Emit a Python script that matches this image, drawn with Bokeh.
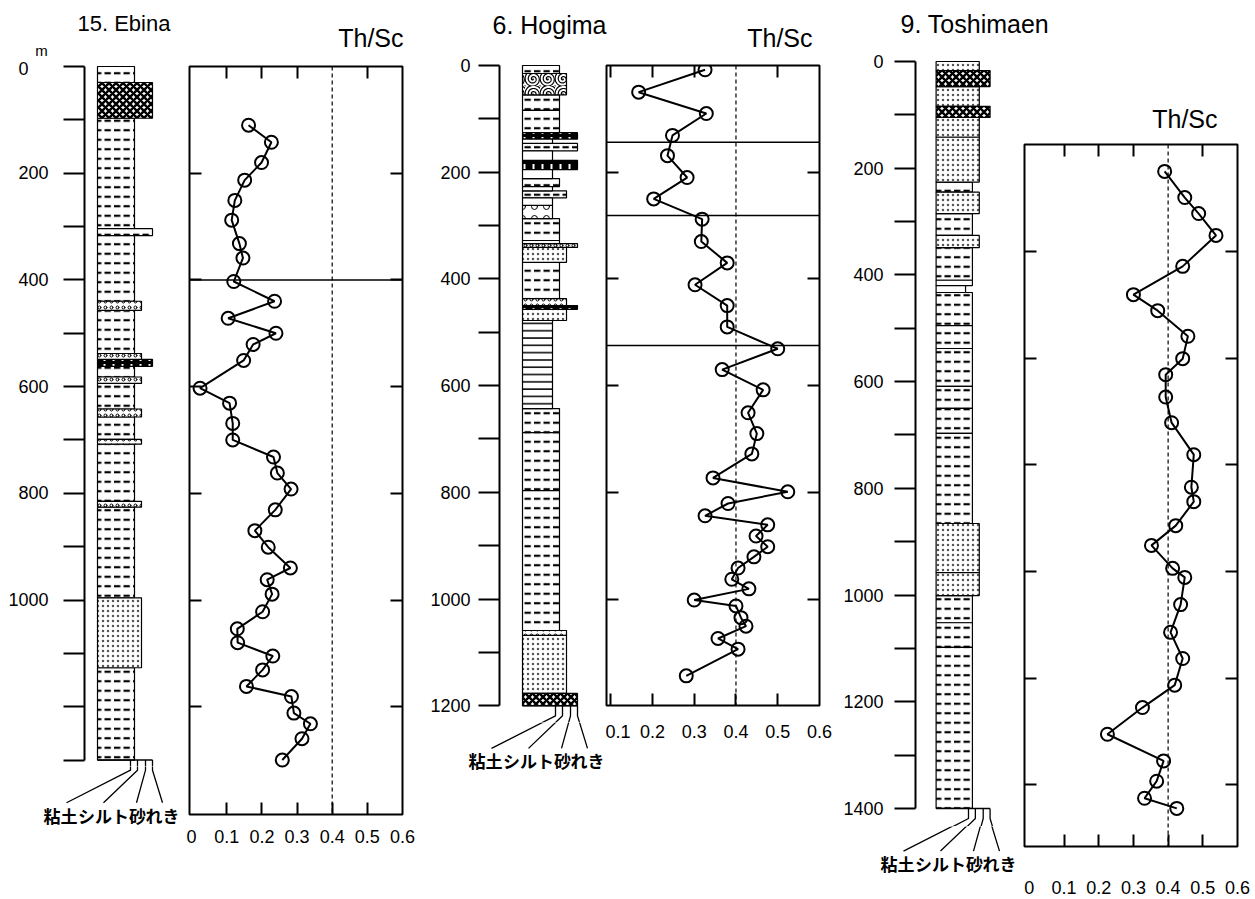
from bokeh.plotting import figure
from bokeh.models import Range1d, FixedTicker, Span, LinearAxis, CustomJSTickFormatter
from bokeh.layouts import row, column
from bokeh.embed import file_html
from bokeh.resources import INLINE
from bokeh.core.properties import value

FONT = "Liberation Sans"
JFONT = "Noto Sans CJK JP"
K = 0.5335            # pixels per metre of depth (same in every panel)
PAGE_BOTTOM = 898

# ---------------------------------------------------------------- data
# Th/Sc profiles (depth in m, ratio)
ebina_depth = [110, 142, 180, 213, 251, 288, 332, 359, 403, 440, 472, 500, 521, 551,
               603, 631, 669, 700, 732, 762, 792, 831, 870, 901, 940, 962, 989, 1022,
               1054, 1080, 1105, 1131, 1162, 1181, 1212, 1232, 1260, 1300]
ebina_thsc = [0.162, 0.227, 0.199, 0.151, 0.123, 0.114, 0.136, 0.146, 0.120, 0.236,
              0.104, 0.240, 0.175, 0.148, 0.024, 0.108, 0.117, 0.117, 0.233, 0.244,
              0.283, 0.238, 0.180, 0.218, 0.281, 0.215, 0.229, 0.202, 0.130, 0.131,
              0.231, 0.202, 0.156, 0.284, 0.291, 0.338, 0.314, 0.258]

hogima_depth = [8, 50, 90, 131, 169, 210, 250, 288, 330, 370, 411, 450, 490, 531, 570,
                608, 651, 690, 728, 773, 799, 821, 844, 861, 882, 902, 921, 942, 963,
                981, 1002, 1013, 1035, 1051, 1074, 1094, 1144]
hogima_thsc = [0.326, 0.167, 0.329, 0.248, 0.236, 0.283, 0.203, 0.319, 0.317, 0.379,
               0.302, 0.379, 0.379, 0.500, 0.367, 0.465, 0.429, 0.450, 0.438, 0.345,
               0.524, 0.381, 0.326, 0.476, 0.448, 0.476, 0.443, 0.405, 0.390, 0.431,
               0.300, 0.400, 0.412, 0.424, 0.357, 0.405, 0.281]

toshimaen_depth = [206, 255, 285, 326, 384, 437, 467, 515, 557, 587, 629, 677, 737, 798,
                   825, 870, 907, 950, 967, 1018, 1070, 1119, 1169, 1211, 1261, 1311,
                   1349, 1381, 1400]
toshimaen_thsc = [0.390, 0.448, 0.488, 0.538, 0.442, 0.300, 0.370, 0.457, 0.442, 0.393,
                  0.393, 0.410, 0.474, 0.467, 0.474, 0.422, 0.352, 0.413, 0.448, 0.436,
                  0.407, 0.442, 0.419, 0.326, 0.225, 0.387, 0.367, 0.332, 0.425]

# horizontal boundary lines in the Th/Sc panels (m)
ebina_boundaries = [400]
hogima_boundaries = [144, 281, 525]
toshimaen_boundaries = []

# lithology: (top m, bottom m, grain size class, pattern)
ebina_layers = [
    (0, 30, "silt", "silt"), (30, 97, "gravel", "gravel"), (97, 304, "silt", "silt"),
    (304, 317, "gravel", "silt"), (317, 440, "silt", "silt"), (440, 457, "sand", "band"),
    (457, 538, "silt", "silt"), (538, 549, "sand", "band"), (549, 562, "gravel", "tuff"),
    (562, 582, "silt", "silt"), (582, 594, "sand", "band"), (594, 642, "silt", "silt"),
    (642, 657, "sand", "band"), (657, 699, "silt", "silt"), (699, 708, "sand", "band"),
    (708, 815, "silt", "silt"), (815, 826, "sand", "band"), (826, 996, "silt", "silt"),
    (996, 1127, "sand", "sand"), (1127, 1300, "silt", "silt"),
]
hogima_layers = [
    (0, 15, "silt", "silt"), (15, 55, "sand", "shell"), (55, 84, "silt", "silt"),
    (84, 126, "silt", "silt"), (126, 138, "gravel", "tuff"), (138, 146, "clay", "blank"),
    (146, 160, "gravel", "silt"), (160, 178, "clay", "blank"), (178, 195, "gravel", "tuff"),
    (195, 212, "clay", "blank"), (212, 227, "silt", "silt"), (227, 235, "clay", "blank"),
    (235, 248, "sand", "silt"), (248, 262, "clay", "blank"), (262, 287, "clay", "pebble"),
    (287, 328, "silt", "silt"), (328, 334, "silt", "blank"), (334, 341, "gravel", "band"),
    (341, 369, "sand", "sand"), (369, 437, "silt", "silt"), (437, 450, "sand", "band"),
    (450, 457, "gravel", "tuff"), (457, 478, "sand", "sand"), (478, 643, "clay", "clay"),
    (643, 688, "silt", "silt"), (688, 797, "silt", "silt"), (797, 1059, "silt", "silt"),
    (1059, 1068, "sand", "band"), (1068, 1177, "sand", "sand"), (1177, 1200, "gravel", "gravel"),
]
toshimaen_layers = [
    (0, 17, "sand", "sand"), (17, 47, "gravel", "gravel"), (47, 84, "sand", "sand"),
    (84, 105, "gravel", "gravel"), (105, 142, "sand", "sand"), (142, 226, "sand", "sand"),
    (226, 245, "silt", "silt"), (245, 285, "sand", "sand"), (285, 326, "silt", "silt"),
    (326, 349, "sand", "sand"), (349, 410, "silt", "silt"), (410, 420, "silt", "blank"),
    (420, 433, "clay", "blank"), (433, 495, "silt", "silt"), (495, 538, "silt", "silt"),
    (538, 609, "silt", "silt"), (609, 650, "silt", "silt"), (650, 697, "silt", "silt"),
    (697, 866, "silt", "silt"), (866, 958, "sand", "sand"), (958, 1001, "sand", "sand"),
    (1001, 1052, "silt", "silt"), (1052, 1098, "silt", "silt"), (1098, 1400, "silt", "silt"),
]

# depth-axis ticks
ebina_depth_labels = [0, 200, 400, 600, 800, 1000]
ebina_depth_ticks = list(range(0, 1301, 100))
hogima_depth_labels = [0, 200, 400, 600, 800, 1000, 1200]
hogima_depth_ticks = list(range(0, 1201, 100))
toshimaen_depth_labels = [0, 200, 400, 600, 800, 1000, 1200, 1400]
toshimaen_depth_ticks = list(range(0, 1401, 100))

# Th/Sc axis ticks
thsc_labels_from0 = [0, 0.1, 0.2, 0.3, 0.4, 0.5, 0.6]
thsc_labels_from01 = [0.1, 0.2, 0.3, 0.4, 0.5, 0.6]
thsc_bottom_ticks = [0.1, 0.2, 0.3, 0.4, 0.5]
thsc_top_ticks = [0.1, 0.2, 0.3, 0.5]
ebina_inner_ticks = [200, 400, 600, 800, 1000, 1200]
hogima_inner_ticks = [200, 400, 600, 800, 1000]
TOSHIMAEN_FRAME_TOP = 156          # the pasted Toshimaen frame starts at this depth
toshimaen_inner_ticks = [TOSHIMAEN_FRAME_TOP + 200 * k for k in range(1, 7)]

# legend of the grain-size scale
GRAINS = ["clay", "silt", "sand", "gravel"]
LEGEND_TEXT = ["粘土", "シルト", "砂", "れき"]
LAYER_W = {"clay": 30, "silt": 37, "sand": 44, "gravel": 55}
LEGEND_X = {"clay": 33, "silt": 40, "sand": 48, "gravel": 55}
LEGEND_END = {"clay": -31, "silt": 6, "sand": 39, "gravel": 65}
LEGEND_TEXT_X = [-37, 6, 40, 65]

PATTERNS = {
    "silt": dict(hatch_pattern='"', hatch_scale=9.5, hatch_weight=2.2, hatch_color="black"),
    "sand": dict(hatch_pattern=".", hatch_scale=5, hatch_weight=1, hatch_color="#555555"),
    "gravel": dict(hatch_pattern="x", hatch_scale=7, hatch_weight=2.5, hatch_color="black"),
    "clay": dict(hatch_pattern="-", hatch_scale=7.3, hatch_weight=1.5, hatch_color="black"),
    "tuff": dict(fill_color="black", hatch_pattern=":", hatch_scale=9, hatch_weight=2, hatch_color="white"),
    "band": dict(hatch_pattern="o", hatch_scale=6, hatch_weight=1, hatch_color="black"),
    "shell": dict(hatch_pattern="@", hatch_scale=15, hatch_weight=1.2, hatch_color="black"),
    "pebble": dict(hatch_pattern="o", hatch_scale=12, hatch_weight=1, hatch_color="black"),
    "blank": dict(),
}

EMPTY = CustomJSTickFormatter(code="return ''")


def solo(p):
    # wrap a single plot so that sibling plots do not get their frames aligned
    return row(p, spacing=0)


def blank_fig(w, h, xr, yr, **kw):
    p = figure(width=w, height=h, x_range=xr, y_range=yr, output_backend="svg",
               toolbar_location=None, x_axis_location=None, y_axis_location=None,
               min_border=0, **kw)
    p.grid.visible = False
    p.outline_line_color = None
    p.background_fill_color = "white"
    p.border_fill_color = "white"
    return p


def title_strip(gx0, gx1, h, texts):
    s = blank_fig(gx1 - gx0, h, Range1d(gx0, gx1), Range1d(h, 0))
    for txt, x, y, size, align in texts:
        s.text(x=[x], y=[y], text=[txt], text_font=value(FONT), text_font_size=f"{size}px",
               text_align=align, text_baseline="middle", text_color="black")
    return solo(s)


def draw_connectors(p, base):
    xs = [[LEGEND_X[g], LEGEND_X[g], LEGEND_END[g]] for g in GRAINS]
    ys = [[base, base + 19, base + 80] for g in GRAINS]
    p.multi_line(xs, ys, line_color="black", line_width=1.3)


def litho_column(layers, label_ticks, all_ticks, base, y0, gx0, axis_x, col_x, gx1,
                 top_end, mid_end, standoff, overrides):
    d = lambda y: (y - y0) / K
    w = gx1 - gx0
    mid = blank_fig(w, mid_end - top_end, Range1d(axis_x - col_x, gx1 - col_x),
                    Range1d(d(mid_end), d(top_end)), min_border_left=axis_x - gx0)
    ax = LinearAxis(ticker=FixedTicker(ticks=label_ticks,
                                       minor_ticks=[t for t in all_ticks if t not in label_ticks]),
                    bounds=(0, base), major_label_overrides=overrides)
    ax.major_tick_in = 0
    ax.major_tick_out = 21
    ax.minor_tick_in = 0
    ax.minor_tick_out = 21
    ax.axis_line_width = 2
    ax.major_tick_line_width = 2
    ax.minor_tick_line_width = 2
    ax.major_label_standoff = standoff
    ax.major_label_text_font = FONT
    ax.major_label_text_font_size = "18px"
    ax.major_label_text_color = "black"
    ax.major_label_text_baseline = "top"
    mid.add_layout(ax, "left")
    for pat, style in PATTERNS.items():
        sel = [l for l in layers if l[3] == pat]
        if not sel:
            continue
        kw = dict(fill_color="white")
        kw.update(style)
        mid.quad(left=0, right=[LAYER_W[l[2]] for l in sel],
                 top=[l[0] for l in sel], bottom=[l[1] for l in sel],
                 line_color="black", line_width=1.2, **kw)
    mid.line([0, LEGEND_X["gravel"]], [base, base], line_color="black", line_width=1.5)
    draw_connectors(mid, base)
    # legend strip
    bot = blank_fig(w, PAGE_BOTTOM - mid_end, Range1d(gx0 - col_x, gx1 - col_x),
                    Range1d(d(PAGE_BOTTOM), d(mid_end)))
    draw_connectors(bot, base)
    bot.text(x=LEGEND_TEXT_X, y=[base + 103] * 4, text=LEGEND_TEXT,
             text_font=value(JFONT), text_font_size="17px", text_font_style="bold",
             text_align="center", text_baseline="middle", text_color="black")
    return column(solo(mid), solo(bot), spacing=0)


def thsc_fig(gx0, gx1, top_end, fx0, fx1, fy0, fy1, xr, ytop, inner_ticks, depth, vals,
             boundaries, xlabels, standoff, title=None, title_off=0):
    frame_h = fy1 - fy0
    p = figure(width=gx1 - gx0, height=PAGE_BOTTOM - top_end,
               x_range=Range1d(*xr), y_range=Range1d(ytop + frame_h / K, ytop),
               output_backend="svg", toolbar_location=None,
               x_axis_location=None, y_axis_location=None, min_border=0,
               min_border_left=fx0 - gx0, min_border_right=gx1 - fx1,
               min_border_top=fy0 - top_end, min_border_bottom=PAGE_BOTTOM - fy1,
               title=title)
    p.grid.visible = False
    p.outline_line_color = "black"
    p.outline_line_width = 2
    if title:
        p.title.align = "right"
        p.title.offset = title_off
        p.title.standoff = 24
        p.title.text_font = FONT
        p.title.text_font_size = "25px"
        p.title.text_font_style = "normal"
        p.title.text_color = "black"

    def tick_axis(ticks, side):
        a = LinearAxis(ticker=FixedTicker(ticks=ticks), formatter=EMPTY)
        a.major_tick_in = 12
        a.major_tick_out = 0
        a.major_tick_line_width = 2
        a.axis_line_color = None
        a.major_label_standoff = 0
        a.major_label_text_font_size = "0px"
        p.add_layout(a, side)

    tick_axis(thsc_bottom_ticks, "below")
    tick_axis(thsc_top_ticks, "above")
    tick_axis(inner_ticks, "left")
    tick_axis(inner_ticks, "right")
    lab = LinearAxis(ticker=FixedTicker(ticks=xlabels), major_label_overrides={0: "0"})
    lab.major_tick_in = 0
    lab.major_tick_out = 0
    lab.major_tick_line_color = None
    lab.axis_line_color = None
    lab.major_label_standoff = standoff
    lab.major_label_text_font = FONT
    lab.major_label_text_font_size = "18px"
    lab.major_label_text_color = "black"
    p.add_layout(lab, "below")

    p.add_layout(Span(location=0.4, dimension="height", line_color="black",
                      line_width=1.2, line_dash="4 3"))
    for b in boundaries:
        p.add_layout(Span(location=b, dimension="width", line_color="black", line_width=1.5))
    p.line(vals, depth, line_color="black", line_width=2)
    p.scatter(vals, depth, marker="circle", size=13, fill_color=None,
              line_color="black", line_width=2)
    return solo(p)


# ---------------- 15. Ebina  (x 0..420)
ebina = column(
    title_strip(0, 420, 58, [("15. Ebina", 77, 23, 22, "left"), ("m", 41, 50, 15, "center"),
                             ("Th/Sc", 403, 37, 25, "right")]),
    row(litho_column(ebina_layers, ebina_depth_labels, ebina_depth_ticks, 1300, 66,
                     0, 84, 97, 186, 58, 766, 15, {0: "0\u2007\u2007"}),
        thsc_fig(186, 420, 58, 189, 402, 66, 814, (-0.006, 0.6), 0, ebina_inner_ticks,
                 ebina_depth, ebina_thsc, ebina_boundaries, thsc_labels_from0, 15),
        spacing=0),
    spacing=0)

# ---------------- 6. Hogima  (x 420..840)
hogima = column(
    title_strip(420, 840, 56, [("6. Hogima", 492, 24, 25, "left"),
                               ("Th/Sc", 812, 37, 25, "right")]),
    row(litho_column(hogima_layers, hogima_depth_labels, hogima_depth_ticks, 1200, 65,
                     420, 499, 522, 605, 56, 722, 8, {}),
        thsc_fig(605, 840, 56, 606, 819, 65, 705, (0.09, 0.6), 0, hogima_inner_ticks,
                 hogima_depth, hogima_thsc, hogima_boundaries, thsc_labels_from01, 19),
        spacing=0),
    spacing=0)

# ---------------- 9. Toshimaen  (x 840..1254)
toshimaen = column(
    title_strip(840, 1254, 52, [("9. Toshimaen", 900, 23, 25, "left")]),
    row(litho_column(toshimaen_layers, toshimaen_depth_labels, toshimaen_depth_ticks, 1400,
                     61, 840, 913, 934, 1020, 52, 826, 11, {}),
        thsc_fig(1020, 1254, 52, 1024, 1237, 144, 846, (-0.014, 0.6), (144 - 61) / K,
                 toshimaen_inner_ticks, toshimaen_depth, toshimaen_thsc,
                 toshimaen_boundaries, thsc_labels_from0, 34, title="Th/Sc", title_off=20),
        spacing=0),
    spacing=0)

layout = row(ebina, hogima, toshimaen, spacing=0)

open("out.html", "w").write(file_html(layout, INLINE, title="Th/Sc profiles"))
